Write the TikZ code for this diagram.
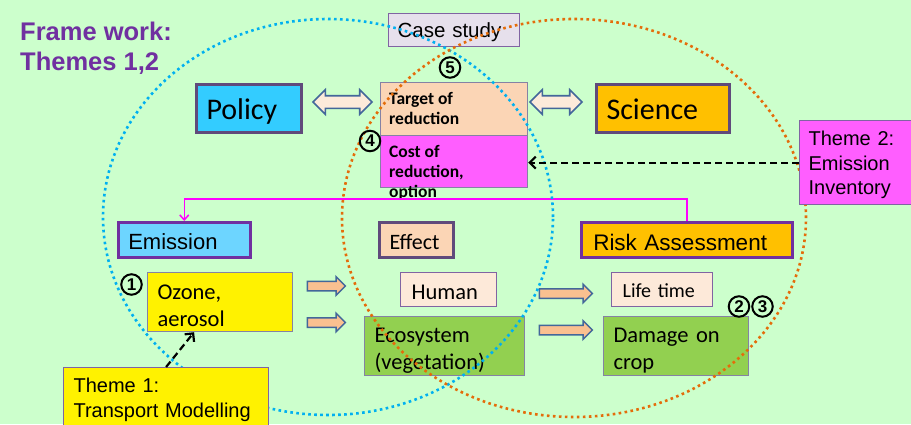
\documentclass[tikz,border=0pt]{standalone}
\usepackage{fontspec}
\setmainfont{Carlito}
\newfontfamily\arialfont{Liberation Sans}
\usetikzlibrary{shapes.arrows,arrows.meta}
\newcommand\fsz[2]{\fontsize{#1}{#2}\selectfont}
\definecolor{bggreen}{HTML}{CCFFCC}
\definecolor{titlepurple}{HTML}{7030A0}
\definecolor{boxpurple}{HTML}{7030A0}
\definecolor{framepurple}{HTML}{604A7B}
\definecolor{casefill}{HTML}{E6E0EC}
\definecolor{caseline}{HTML}{8064A2}
\definecolor{grayline}{HTML}{8582A4}
\definecolor{policyblue}{HTML}{33CCFF}
\definecolor{emisblue}{HTML}{6DD5FF}
\definecolor{sciorange}{HTML}{FFC000}
\definecolor{targetfill}{HTML}{FBD5B5}
\definecolor{costfill}{HTML}{FF5EFF}
\definecolor{lightpeach}{HTML}{FDE9D9}
\definecolor{leafgreen}{HTML}{92D050}
\definecolor{arrowblue}{HTML}{43679A}
\definecolor{arrowfill}{HTML}{FDEADA}
\definecolor{fwdfill}{HTML}{FAC090}
\definecolor{ringblue}{HTML}{00B0F0}
\definecolor{ringorange}{HTML}{E46C0A}
\definecolor{linkpink}{HTML}{FF00FF}
\tikzset{
  box/.style={draw, anchor=north west, inner xsep=10pt, inner ysep=0pt, align=left},
  thickbox/.style={box, draw=framepurple, line width=3pt},
  thinbox/.style={box, draw=grayline, line width=1.2pt},
  dblarrow/.style={double arrow, draw=arrowblue, fill=arrowfill, line width=1.6pt,
    inner xsep=0pt, inner ysep=5.5pt, minimum width=23pt, double arrow head extend=6pt},
  fwdarrow/.style={single arrow, draw=arrowblue, fill=fwdfill, line width=1.5pt,
    inner xsep=0pt, inner ysep=4pt, minimum width=17pt, single arrow head extend=4.5pt},
  numcircle/.style={circle, draw, line width=2pt, minimum size=20.5pt, inner sep=0pt,
    font=\arialfont\bfseries\fsz{17}{17}},
  ring/.style={line width=2.6pt, dash pattern=on 2.6pt off 3.4pt},
  themearrow/.style={line width=2.2pt, dash pattern=on 7pt off 4pt,
    -{Straight Barb[length=6pt,width=12pt]}},
  linkarrow/.style={linkpink, line width=1.5pt, -{Straight Barb[length=5pt,width=9pt]}}
}
\begin{document}
\begin{tikzpicture}[x=1pt,y=-1pt]
\useasboundingbox[fill=bggreen] (0,0) rectangle (911,424);
\node[anchor=north west, align=left, inner sep=0pt, text=titlepurple,
  font=\arialfont\bfseries\fsz{25.5}{30}] (title) at (20,22) {Frame work:\\Themes 1,2};
\node[box, fill=casefill, draw=caseline, line width=1.2pt, inner xsep=9pt, text width=113pt,
  text height=24pt, text depth=9pt, font=\arialfont\fsz{20.5}{24}] (case) at (388,13) {Case study};
\node[thickbox, fill=policyblue, text width=85pt, text height=35pt, text depth=13pt,
  font=\fsz{30}{36}] (policy) at (195,83) {Policy};
\node[thickbox, fill=sciorange, text width=113pt, text height=35pt, text depth=13pt,
  font=\fsz{30}{36}] (science) at (595,83) {Science};
\node[thinbox, fill=targetfill, minimum width=147pt, minimum height=53pt] (target) at (380,82) {};
\node[thinbox, fill=costfill, minimum width=147pt, minimum height=52pt] (cost) at (380,135) {};
\node[anchor=north west, inner sep=0pt, align=left, font=\bfseries\fsz{17.5}{20.2}]
  (targettxt) at (389,92) {Target of\\reduction};
\node[anchor=north west, inner sep=0pt, align=left, font=\bfseries\fsz{17.5}{20.2}]
  (costtxt) at (389,145) {Cost of\\reduction,\\option};
\node[dblarrow, minimum height=59pt] (policylink) at (342.5,102) {};
\node[dblarrow, minimum height=52pt] (sciencelink) at (556,102) {};
\node[box, fill=emisblue, draw=boxpurple, line width=2.5pt, text width=112pt, text height=27pt,
  text depth=8pt, font=\arialfont\fsz{22}{26}] (emission) at (117,221) {Emission};
\node[thickbox, fill=targetfill, text width=54pt, text height=27pt, text depth=8pt,
  font=\fsz{22}{26}] (effect) at (378,221) {Effect};
\node[box, fill=sciorange, draw=boxpurple, line width=2.5pt, inner xsep=12pt, text width=187pt,
  text height=28pt, text depth=7pt, font=\arialfont\fsz{22.5}{26}] (risk) at (580,221) {Risk Assessment};
\node[thinbox, fill=yellow, text width=125pt, text height=27pt, text depth=32pt,
  font=\fsz{22.5}{27}] (ozone) at (147,272) {Ozone,\\aerosol};
\node[box, fill=lightpeach, draw=caseline, line width=1.2pt, inner xsep=11pt, text width=74pt,
  text height=27pt, text depth=7pt, font=\fsz{22.5}{27}] (human) at (400,272) {Human};
\node[thinbox, fill=leafgreen, text width=140pt, text height=26pt, text depth=33pt,
  font=\fsz{22.5}{27}] (eco) at (364,316) {Ecosystem\\(vegetation)};
\node[box, fill=lightpeach, draw=caseline, line width=1.2pt, inner xsep=11pt, text width=79pt,
  text height=25pt, text depth=9pt, font=\fsz{20}{24}] (life) at (611,272) {Life time};
\node[thinbox, fill=leafgreen, text width=125pt, text height=26pt, text depth=33pt,
  font=\fsz{22.5}{27}] (damage) at (603,316) {Damage on\\crop};
\node[fwdarrow, minimum height=38pt] (ozhuman) at (324,286) {};
\node[fwdarrow, minimum height=38pt] (ozeco) at (324,322.5) {};
\node[fwdarrow, minimum height=53pt] (humanlife) at (563.5,293.5) {};
\node[fwdarrow, minimum height=53pt] (ecodamage) at (563.5,330) {};
\draw[linkarrow] (risk.north) -- ++(0,-22) -| (emission.north);
\draw[ring, ringblue] (328,217) ellipse (225pt and 198pt);
\draw[ring, ringorange] (574,218) ellipse (232pt and 199pt);
\node[numcircle] (n1) at (131.5,284.5) {1};
\node[numcircle] (n2) at (739,306.5) {2};
\node[numcircle] (n3) at (762.5,306.5) {3};
\node[numcircle] (n4) at (370,141) {4};
\node[numcircle] (n5) at (450,67.5) {5};
\node[box, fill=costfill, draw=caseline, line width=1.2pt, inner xsep=9pt, text width=98pt,
  text height=25pt, text depth=59pt, font=\arialfont\fsz{20}{24.5}] (theme2) at (799,120)
  {Theme 2:\\Emission\\Inventory};
\node[box, fill=yellow, draw=caseline, line width=1.2pt, text width=185pt, text height=25pt,
  text depth=38pt, font=\arialfont\fsz{20}{25}] (theme1) at (63,367)
  {Theme 1:\\Transport Modelling};
\draw[themearrow] (theme1.north) -- ([xshift=-26pt]ozone.south);
\draw[themearrow] (theme2.west) -- (theme2.west -| cost.east);
\end{tikzpicture}
\end{document}
